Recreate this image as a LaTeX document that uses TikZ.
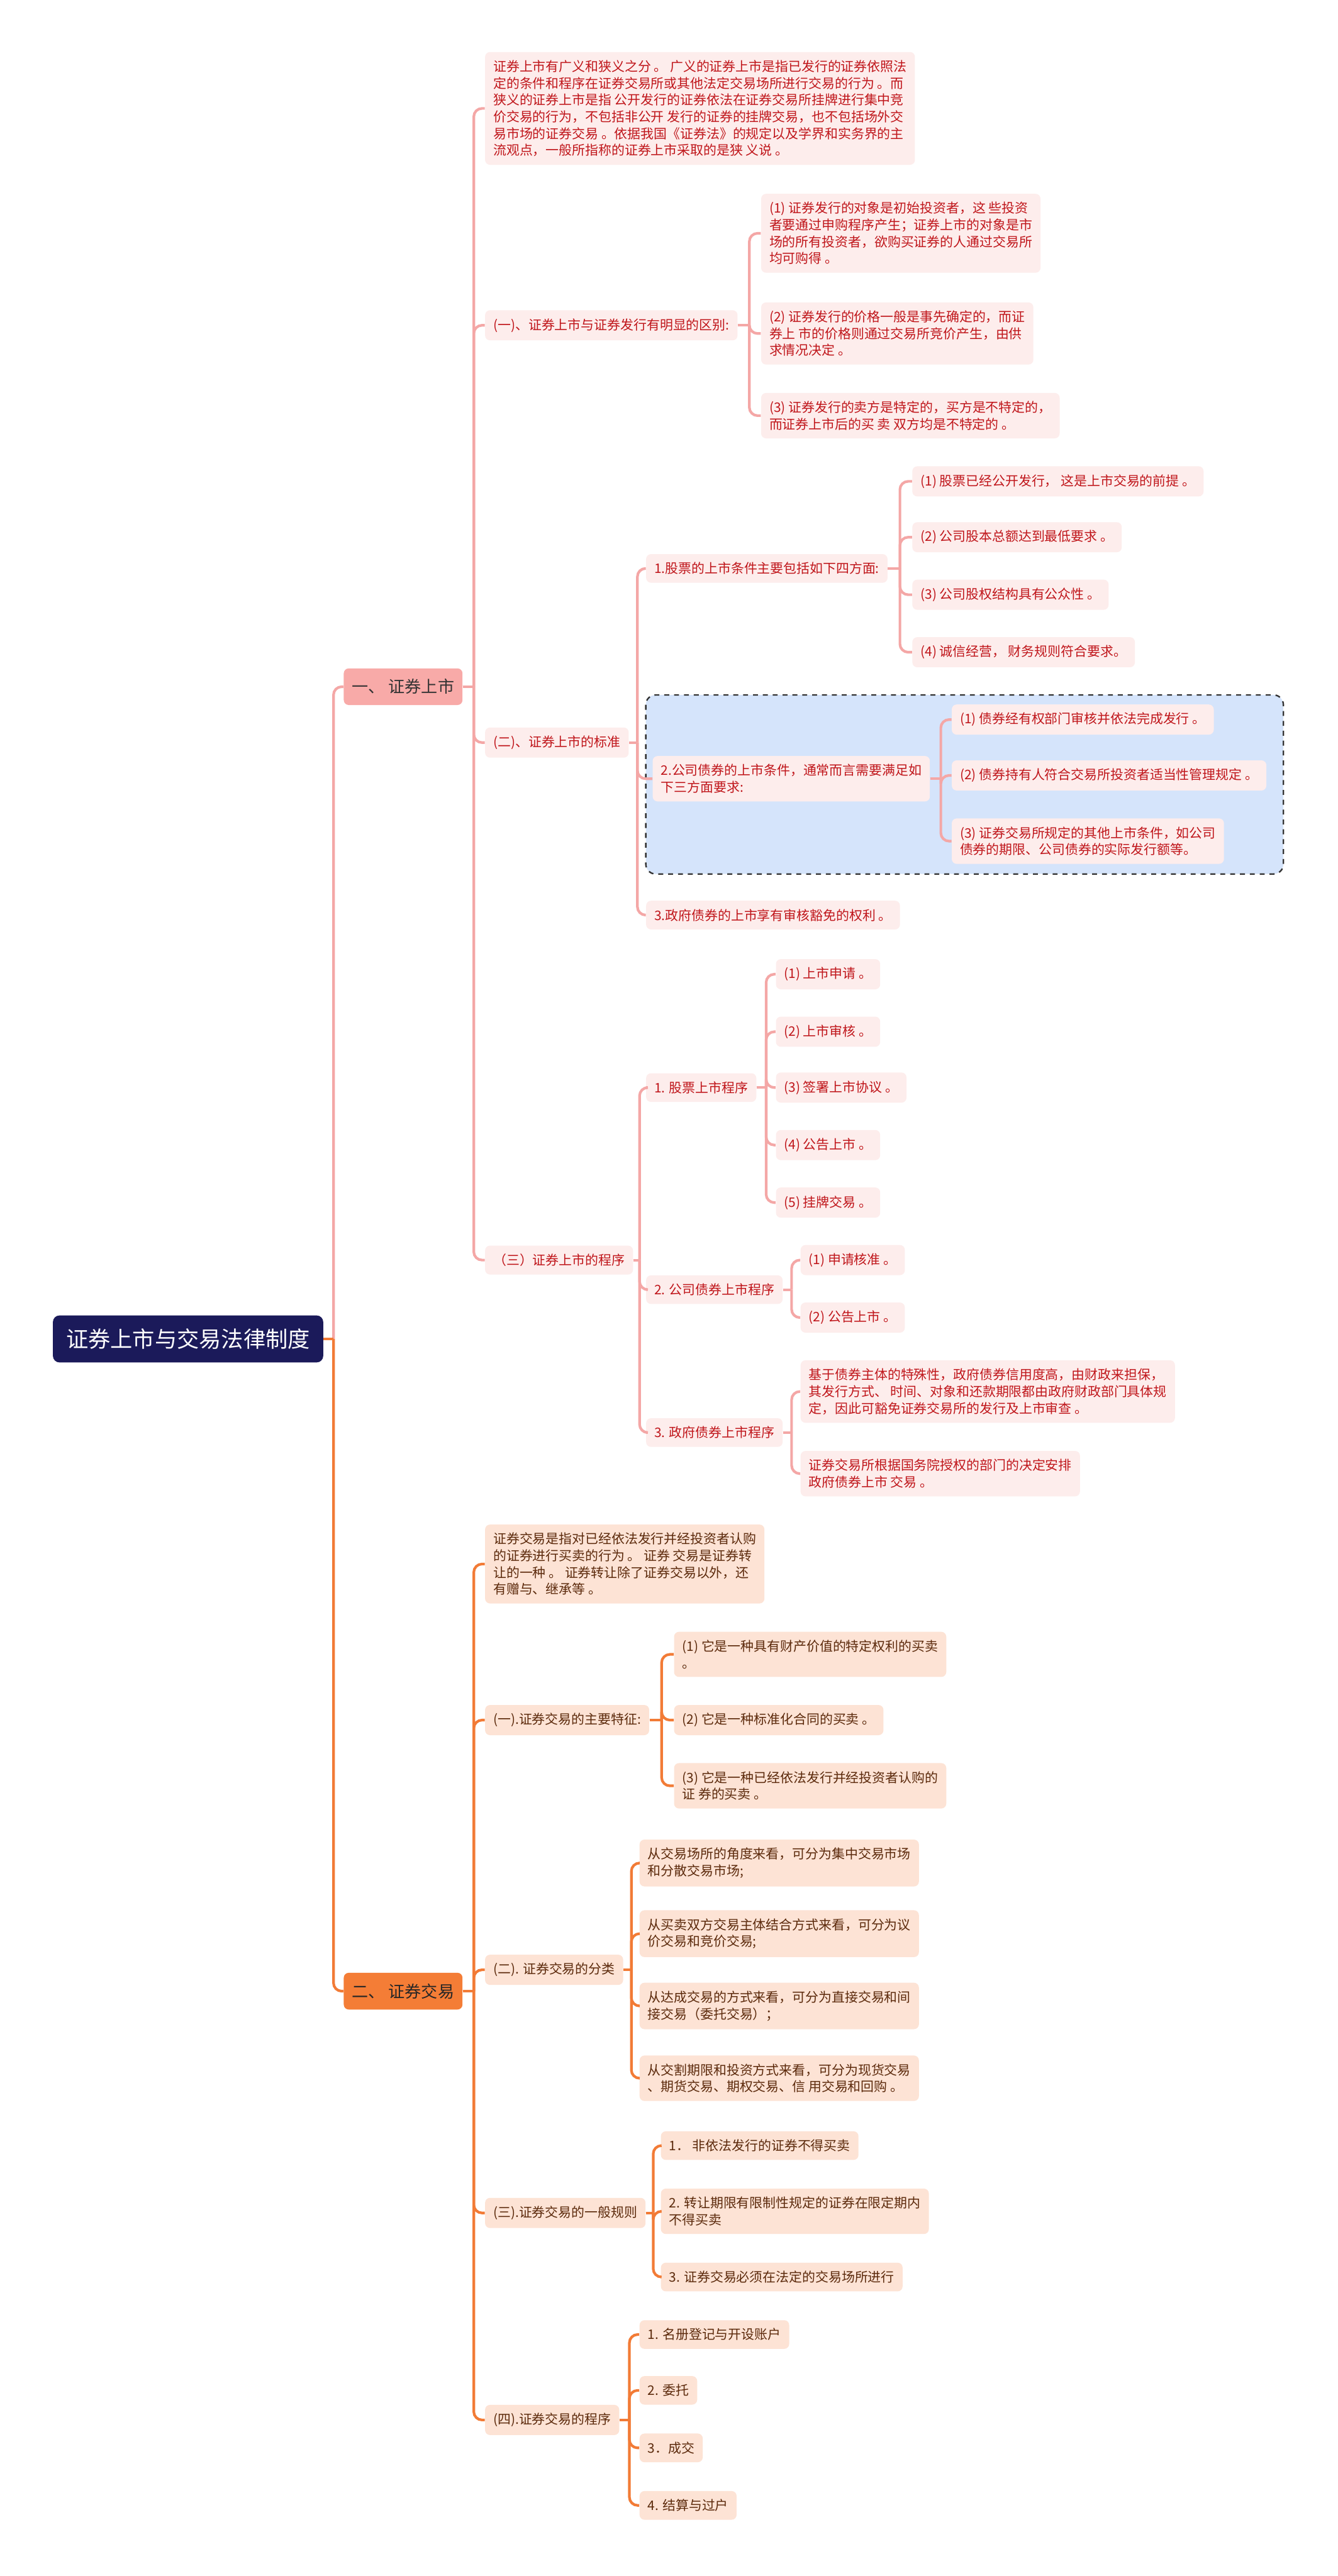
\documentclass[tikz,border=0pt]{standalone}
\usepackage{fontspec}
\setmainfont{Noto Sans CJK SC}
\usetikzlibrary{calc}
\definecolor{pline}{HTML}{F4A7A6}
\definecolor{pfill}{HTML}{FDEDEC}
\definecolor{ptext}{HTML}{C0161B}
\definecolor{oline}{HTML}{F27B36}
\definecolor{ofill}{HTML}{FDE3D5}
\definecolor{otext}{HTML}{5C2A0C}
\definecolor{bonefill}{HTML}{F8AAA8}
\definecolor{btwofill}{HTML}{F47D36}
\definecolor{rootfill}{HTML}{1B1A5A}
\definecolor{dashfill}{HTML}{D5E4FB}
\tikzset{
  base/.style={anchor=west, rounded corners=3pt, inner xsep=5pt, inner ysep=5pt, align=left, font=\fontsize{8}{10.2}\selectfont},
  pnode/.style={base, fill=pfill, text=ptext},
  onode/.style={base, fill=ofill, text=otext},
  rootnode/.style={anchor=west, rounded corners=4pt, fill=rootfill, text=white, inner xsep=8pt, inner ysep=8pt, font=\fontsize{13.5}{15}\selectfont},
  bone/.style={anchor=west, rounded corners=3pt, fill=bonefill, text=black!80, inner xsep=5pt, inner ysep=6.5pt, font=\fontsize{10}{12}\selectfont},
  btwo/.style={anchor=west, rounded corners=3pt, fill=btwofill, text=black!85, inner xsep=5pt, inner ysep=6.5pt, font=\fontsize{10}{12}\selectfont},
  pl/.style={draw=pline, line width=1.6pt},
  ol/.style={draw=oline, line width=1.6pt},
  dashbox/.style={draw=black!80, dashed, line width=0.9pt, fill=dashfill, rounded corners=6pt}
}
\newcommand{\mlink}[4]{%
  \coordinate (t) at ($(#2.east)!0.5!(#2.east -| #4.west)$);
  \draw[#1] (#2.east) -- (t);
  \draw[#1,rounded corners=5pt] (t) |- (#3.west);
}
\begin{document}
\begin{tikzpicture}[x=1pt,y=-1pt]
\useasboundingbox (0,0) rectangle (814,1568);
\fill[white] (0,0) rectangle (814,1568);

\draw[dashbox] (393,423) rectangle (781,532);

% root and main branches
\node[rootnode] (r) at (32,815) {证券上市与交易法律制度};
\node[bone] (b1) at (209,418) {一、 证券上市};
\node[btwo] (b2) at (209,1212) {二、 证券交易};

% branch one, level 2
\node[pnode] (a0) at (295,66) {证券上市有广义和狭义之分 。 广义的证券上市是指已发行的证券依照法\\定的条件和程序在证券交易所或其他法定交易场所进行交易的行为 。而\\狭义的证券上市是指 公开发行的证券依法在证券交易所挂牌进行集中竞\\价交易的行为，不包括非公开 发行的证券的挂牌交易，也不包括场外交\\易市场的证券交易 。依据我国《证券法》的规定以及学界和实务界的主\\流观点，一般所指称的证券上市采取的是狭 义说 。};
\node[pnode] (a1) at (295,198) {(一)、证券上市与证券发行有明显的区别:};
\node[pnode] (a2) at (295,452) {(二)、证券上市的标准};
\node[pnode] (a3) at (295,767) {（三）证券上市的程序};

\node[pnode] (a11) at (463,142) {(1) 证券发行的对象是初始投资者，这 些投资\\者要通过申购程序产生；证券上市的对象是市\\场的所有投资者，欲购买证券的人通过交易所\\均可购得 。};
\node[pnode] (a12) at (463,203) {(2) 证券发行的价格一般是事先确定的，而证\\券上 市的价格则通过交易所竞价产生，由供\\求情况决定 。};
\node[pnode] (a13) at (463,253) {(3) 证券发行的卖方是特定的，买方是不特定的，\\而证券上市后的买 卖 双方均是不特定的 。};

\node[pnode] (a21) at (393,346) {1.股票的上市条件主要包括如下四方面:};
\node[pnode] (a22) at (397,474) {2.公司债券的上市条件，通常而言需要满足如\\下三方面要求:};
\node[pnode] (a23) at (393,557) {3.政府债券的上市享有审核豁免的权利 。};

\node[pnode] (a211) at (555,293) {(1) 股票已经公开发行， 这是上市交易的前提 。};
\node[pnode] (a212) at (555,327) {(2) 公司股本总额达到最低要求 。};
\node[pnode] (a213) at (555,362) {(3) 公司股权结构具有公众性 。};
\node[pnode] (a214) at (555,397) {(4) 诚信经营， 财务规则符合要求。};

\node[pnode] (a221) at (579,438) {(1) 债券经有权部门审核并依法完成发行 。};
\node[pnode] (a222) at (579,472) {(2) 债券持有人符合交易所投资者适当性管理规定 。};
\node[pnode] (a223) at (579,512) {(3) 证券交易所规定的其他上市条件，如公司\\债券的期限、公司债券的实际发行额等。};

\node[pnode] (a31) at (393,662) {1. 股票上市程序};
\node[pnode] (a32) at (393,785) {2. 公司债券上市程序};
\node[pnode] (a33) at (393,872) {3. 政府债券上市程序};

\node[pnode] (a311) at (472,593) {(1) 上市申请 。};
\node[pnode] (a312) at (472,628) {(2) 上市审核 。};
\node[pnode] (a313) at (472,662) {(3) 签署上市协议 。};
\node[pnode] (a314) at (472,697) {(4) 公告上市 。};
\node[pnode] (a315) at (472,732) {(5) 挂牌交易 。};

\node[pnode] (a321) at (487,767) {(1) 申请核准 。};
\node[pnode] (a322) at (487,802) {(2) 公告上市 。};

\node[pnode] (a331) at (487,847) {基于债券主体的特殊性，政府债券信用度高，由财政来担保，\\其发行方式、 时间、对象和还款期限都由政府财政部门具体规\\定，因此可豁免证券交易所的发行及上市审查 。};
\node[pnode] (a332) at (487,897) {证券交易所根据国务院授权的部门的决定安排\\政府债券上市 交易 。};

% branch two
\node[onode] (c0) at (295,952) {证券交易是指对已经依法发行并经投资者认购\\的证券进行买卖的行为 。 证券 交易是证券转\\让的一种 。 证券转让除了证券交易以外，还\\有赠与、继承等 。};
\node[onode] (c1) at (295,1047) {(一).证券交易的主要特征:};
\node[onode] (c2) at (295,1199) {(二). 证券交易的分类};
\node[onode] (c3) at (295,1347) {(三).证券交易的一般规则};
\node[onode] (c4) at (295,1473) {(四).证券交易的程序};

\node[onode] (c11) at (410,1007) {(1) 它是一种具有财产价值的特定权利的买卖\\。};
\node[onode] (c12) at (410,1047) {(2) 它是一种标准化合同的买卖 。};
\node[onode] (c13) at (410,1087) {(3) 它是一种已经依法发行并经投资者认购的\\证 券的买卖 。};

\node[onode] (c21) at (389,1134) {从交易场所的角度来看，可分为集中交易市场\\和分散交易市场;};
\node[onode] (c22) at (389,1177) {从买卖双方交易主体结合方式来看，可分为议\\价交易和竞价交易;};
\node[onode] (c23) at (389,1221) {从达成交易的方式来看，可分为直接交易和间\\接交易（委托交易）；};
\node[onode] (c24) at (389,1265) {从交割期限和投资方式来看，可分为现货交易\\、期货交易、期权交易、信 用交易和回购 。};

\node[onode] (c31) at (402,1306) {1． 非依法发行的证券不得买卖};
\node[onode] (c32) at (402,1346) {2. 转让期限有限制性规定的证券在限定期内\\不得买卖};
\node[onode] (c33) at (402,1386) {3. 证券交易必须在法定的交易场所进行};

\node[onode] (c41) at (389,1421) {1. 名册登记与开设账户};
\node[onode] (c42) at (389,1455) {2. 委托};
\node[onode] (c43) at (389,1490) {3．成交};
\node[onode] (c44) at (389,1525) {4. 结算与过户};

% connectors
\mlink{pl}{r}{b1}{b1}
\mlink{ol}{r}{b2}{b1}

\foreach \c in {a0,a1,a2,a3} {\mlink{pl}{b1}{\c}{a0}}
\foreach \c in {a11,a12,a13} {\mlink{pl}{a1}{\c}{a11}}
\foreach \c in {a21,a22,a23} {\mlink{pl}{a2}{\c}{a21}}
\foreach \c in {a211,a212,a213,a214} {\mlink{pl}{a21}{\c}{a211}}
\foreach \c in {a221,a222,a223} {\mlink{pl}{a22}{\c}{a221}}
\foreach \c in {a31,a32,a33} {\mlink{pl}{a3}{\c}{a31}}
\foreach \c in {a311,a312,a313,a314,a315} {\mlink{pl}{a31}{\c}{a311}}
\foreach \c in {a321,a322} {\mlink{pl}{a32}{\c}{a321}}
\foreach \c in {a331,a332} {\mlink{pl}{a33}{\c}{a331}}

\foreach \c in {c0,c1,c2,c3,c4} {\mlink{ol}{b2}{\c}{c0}}
\foreach \c in {c11,c12,c13} {\mlink{ol}{c1}{\c}{c11}}
\foreach \c in {c21,c22,c23,c24} {\mlink{ol}{c2}{\c}{c21}}
\foreach \c in {c31,c32,c33} {\mlink{ol}{c3}{\c}{c31}}
\foreach \c in {c41,c42,c43,c44} {\mlink{ol}{c4}{\c}{c41}}
\end{tikzpicture}
\end{document}
